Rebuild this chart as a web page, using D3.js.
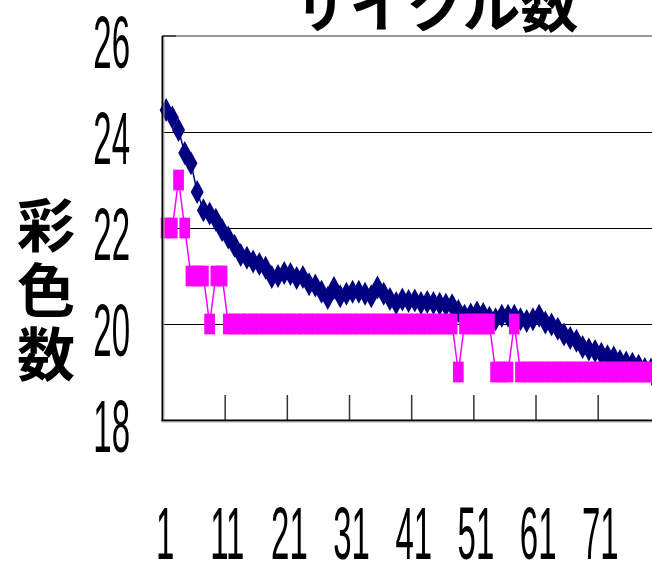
<html>
<head>
<meta charset="utf-8">
<script src="https://cdn.jsdelivr.net/npm/d3@7"></script>
<style>
  body { margin:0; background:#fff; }
  svg { font-family: "Liberation Sans", Arial, sans-serif; }
  .cjk { font-family: "Noto Sans CJK JP", sans-serif; font-weight: bold; }
</style>
</head>
<body>
<svg width=652 height=561 id="chart1"></svg>
<script>
  // categories 1..80 (x axis)
  var categories = d3.range(1, 81);
  // navy diamonds
  var seriesNavy = [
    24.46, 24.30, 24.04, 23.56, 23.35, 22.75, 22.37, 22.30, 22.17, 21.96,
    21.80, 21.63, 21.44, 21.38, 21.30, 21.25, 21.17, 20.98, 21.00, 21.06,
    21.04, 20.96, 20.98, 20.83, 20.80, 20.67, 20.54, 20.75, 20.58, 20.63,
    20.67, 20.67, 20.63, 20.58, 20.76, 20.63, 20.52, 20.44, 20.51, 20.48,
    20.49, 20.44, 20.46, 20.44, 20.42, 20.40, 20.39, 20.27, 20.17, 20.20,
    20.24, 20.21, 20.13, 20.10, 20.17, 20.17, 20.17, 20.10, 20.06, 20.10,
    20.17, 20.03, 19.99, 19.90, 19.78, 19.71, 19.65, 19.52, 19.47, 19.44,
    19.38, 19.33, 19.30, 19.23, 19.20, 19.17, 19.13, 19.06, 19.05, 18.75
  ];
  // magenta squares
  var seriesPink = [
    22, 22, 23, 22, 21, 21, 21, 20, 21, 21,
    20, 20, 20, 20, 20, 20, 20, 20, 20, 20,
    20, 20, 20, 20, 20, 20, 20, 20, 20, 20,
    20, 20, 20, 20, 20, 20, 20, 20, 20, 20,
    20, 20, 20, 20, 20, 20, 20, 19, 20, 20,
    20, 20, 20, 19, 19, 19, 20, 19, 19, 19,
    19, 19, 19, 19, 19, 19, 19, 19, 19, 19,
    19, 19, 19, 19, 19, 19, 19, 19, 19, 19
  ];
  var yTicks = [18, 20, 22, 24, 26];
  var xTickLabels = ["1", "11", "21", "31", "41", "51", "61", "71"];
  var titleText = "サイクル数";
  var yLabelChars = ["彩", "色", "数"];

  var plot = {left: 163, top: 36, bottom: 420, band: 6.217};
  var x = d3.scaleBand().domain(categories)
      .range([plot.left, plot.left + categories.length * plot.band]);
  var y = d3.scaleLinear().domain([18, 26]).range([plot.bottom, plot.top]);
  var cx = function(c) { return x(c) + x.bandwidth() / 2; };

  var svg = d3.select("#chart1");

  // gridlines (26 is the grey border)
  svg.append("g").selectAll("line").data(yTicks.slice(1, -1)).enter()
    .append("line")
      .attr("x1", plot.left).attr("x2", 652)
      .attr("y1", function(d) { return y(d) + 0.5; })
      .attr("y2", function(d) { return y(d) + 0.5; })
      .attr("stroke", "#000").attr("stroke-width", 1);

  // top border
  svg.append("line")
    .attr("x1", plot.left).attr("x2", 652)
    .attr("y1", plot.top).attr("y2", plot.top)
    .attr("stroke", "#999").attr("stroke-width", 2);
  svg.append("line")
    .attr("x1", plot.left - 1).attr("x2", plot.left + 13)
    .attr("y1", plot.top).attr("y2", plot.top)
    .attr("stroke", "#000").attr("stroke-width", 1);

  // x ticks (between categories, inward)
  svg.append("g").selectAll("line").data([11, 21, 31, 41, 51, 61, 71]).enter()
    .append("line")
      .attr("x1", function(d) { return x(d); })
      .attr("x2", function(d) { return x(d); })
      .attr("y1", plot.bottom - 25).attr("y2", plot.bottom)
      .attr("stroke", "#333").attr("stroke-width", 1.5);

  // navy series
  svg.append("path")
    .datum(seriesNavy)
    .attr("fill", "none")
    .attr("stroke", "#000080")
    .attr("stroke-width", 1.5)
    .attr("d", d3.line()
      .x(function(d, i) { return cx(categories[i]); })
      .y(function(d) { return y(d); }));
  svg.append("g").selectAll("path").data(seriesNavy).enter()
    .append("path")
      .attr("transform", function(d, i) { return "translate(" + cx(categories[i]) + "," + y(d) + ")"; })
      .attr("d", "M0,-12L6.5,0L0,12L-6.5,0Z")
      .attr("fill", "#000080");

  // magenta series
  svg.append("path")
    .datum(seriesPink)
    .attr("fill", "none")
    .attr("stroke", "#ff00ff")
    .attr("stroke-width", 1.5)
    .attr("d", d3.line()
      .x(function(d, i) { return cx(categories[i]); })
      .y(function(d) { return y(d); }));
  svg.append("g").selectAll("rect").data(seriesPink).enter()
    .append("rect")
      .attr("x", function(d, i) { return cx(categories[i]) - 5.35; })
      .attr("y", function(d) { return y(d) - 10.35; })
      .attr("width", 10.7).attr("height", 20.7)
      .attr("fill", "#ff00ff");

  // axis lines
  svg.append("line")
    .attr("x1", plot.left - 0.5).attr("x2", plot.left - 0.5)
    .attr("y1", plot.top).attr("y2", plot.bottom + 1)
    .attr("stroke", "#000").attr("stroke-width", 2);
  svg.append("line")
    .attr("x1", plot.left + 1).attr("x2", plot.left + 1)
    .attr("y1", plot.top + 1).attr("y2", plot.bottom)
    .attr("stroke", "#aaa").attr("stroke-width", 1);
  svg.append("line")
    .attr("x1", plot.left - 1.5).attr("x2", 652)
    .attr("y1", plot.bottom + 0.5).attr("y2", plot.bottom + 0.5)
    .attr("stroke", "#000").attr("stroke-width", 2);
  svg.append("line")
    .attr("x1", plot.left - 1.5).attr("x2", 652)
    .attr("y1", plot.bottom + 2).attr("y2", plot.bottom + 2)
    .attr("stroke", "#aaa").attr("stroke-width", 1);

  // y tick labels (tall, condensed)
  svg.append("g").selectAll("text").data(yTicks).enter()
    .append("text")
      .attr("transform", function(d) { return "translate(130," + (y(d) + 32) + ") scale(0.44,1)"; })
      .attr("text-anchor", "end")
      .style("font-size", "75px")
      .text(function(d) { return d; });

  // x tick labels
  svg.append("g").selectAll("text").data(xTickLabels).enter()
    .append("text")
      .attr("transform", function(d) { return "translate(" + (cx(+d) - 1) + ",559) scale(0.44,1)"; })
      .attr("text-anchor", "middle")
      .style("font-size", "75px")
      .text(function(d) { return d; });

  // title
  svg.append("text")
    .attr("class", "cjk")
    .attr("x", 435).attr("y", 27)
    .attr("text-anchor", "middle")
    .style("font-size", "58px")
    .text(titleText);

  // y axis title, stacked
  svg.append("g").selectAll("text").data(yLabelChars).enter()
    .append("text")
      .attr("class", "cjk")
      .attr("x", 46)
      .attr("y", function(d, i) { return 247 + i * 64.5; })
      .attr("text-anchor", "middle")
      .style("font-size", "58px")
      .text(function(d) { return d; });
</script>
</body>
</html>
